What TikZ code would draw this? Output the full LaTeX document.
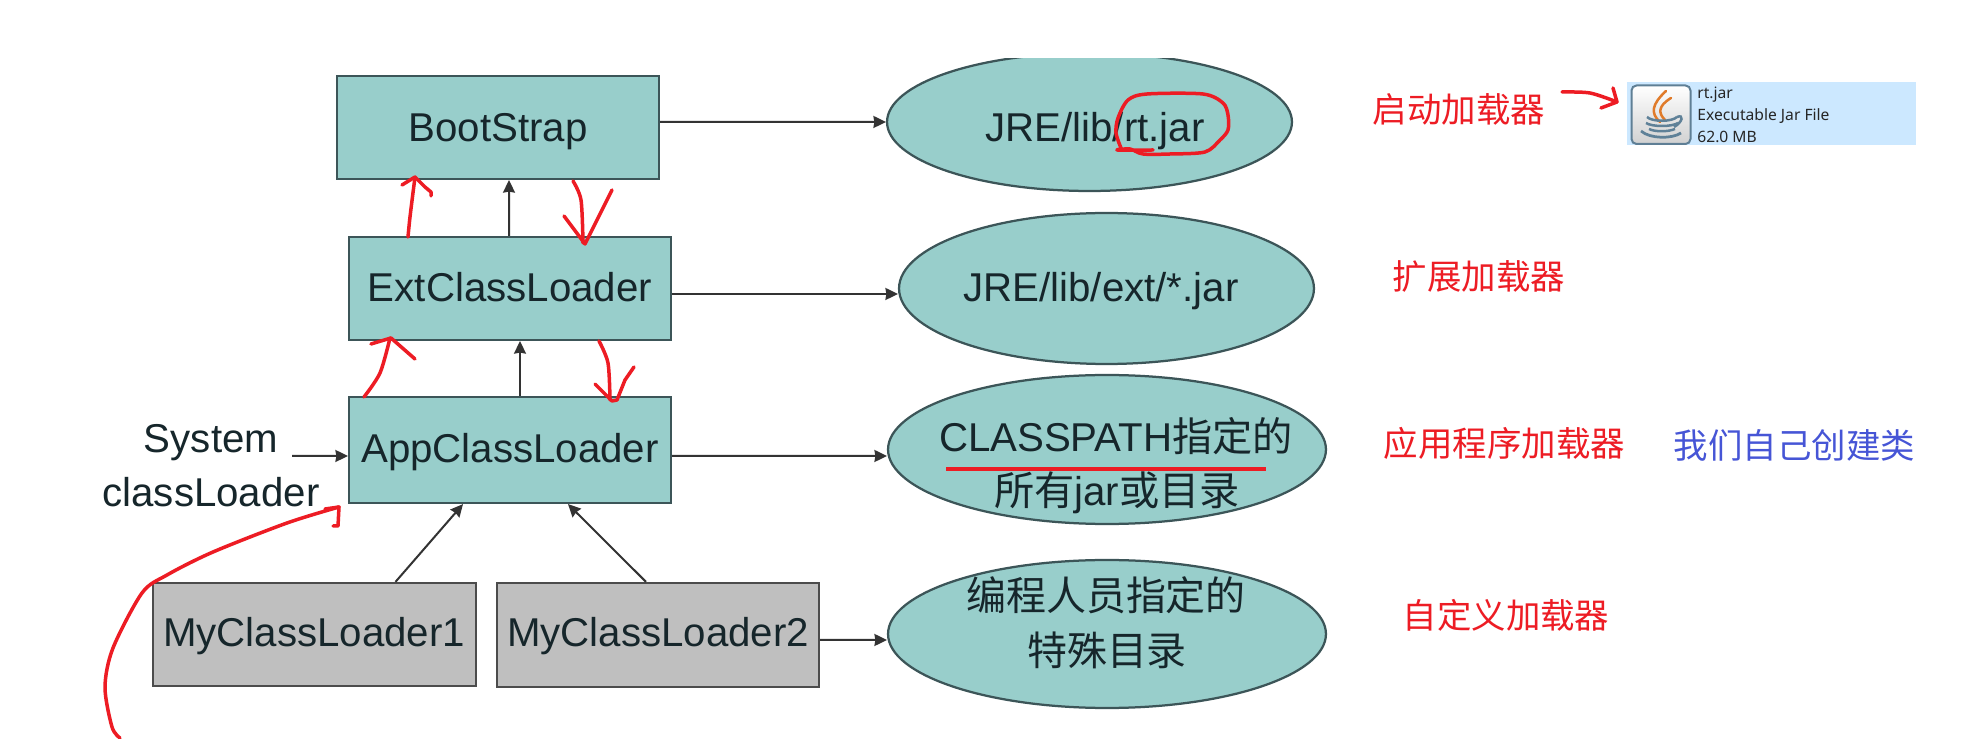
\documentclass[tikz,border=0pt]{standalone}
\usepackage{fontspec}
\setmainfont{Liberation Sans}
\newfontfamily\cjk{Noto Sans CJK SC}
\newfontfamily\uifont{Noto Sans}
\usetikzlibrary{arrows.meta,shapes.geometric,calc}
\definecolor{teal}{HTML}{98CECB}
\definecolor{grayfill}{HTML}{BFBFBF}
\definecolor{edge}{HTML}{3C5558}
\definecolor{ink}{HTML}{16262B}
\definecolor{pen}{HTML}{ED1C24}
\definecolor{bluetxt}{HTML}{4655D6}
\definecolor{sel}{HTML}{CCE8FF}
\definecolor{iconedge}{HTML}{5F7F95}
\definecolor{steam}{HTML}{E07B2A}
\definecolor{cupc}{HTML}{5F8198}
\tikzset{
  box/.style={draw=edge,line width=0.045cm,fill=teal,inner sep=0pt},
  graybox/.style={draw=black!70,line width=0.045cm,fill=grayfill,inner sep=0pt},
  oval/.style={ellipse,draw=edge,line width=0.045cm,fill=teal,inner sep=0pt},
  lbl/.style={anchor=base,inner sep=0pt,text=ink,font=\fontsize{22.9}{27}\selectfont},
  redlbl/.style={anchor=center,inner sep=0pt,text=pen,font=\cjk\fontsize{19.6}{24}\selectfont},
  bluelbl/.style={anchor=center,inner sep=0pt,text=bluetxt,font=\cjk\fontsize{19.6}{24}\selectfont},
  uitext/.style={anchor=west,inner sep=0pt,text=black!85,font=\uifont\fontsize{8.9}{11}\selectfont},
  conn/.style={draw=black!80,line width=0.04cm,-{Stealth[length=0.25cm,width=0.24cm,inset=0.02cm]}},
  scribble/.style={draw=pen,line width=0.07cm,line cap=round,line join=round},
}
\begin{document}
\begin{tikzpicture}[x=0.02cm,y=-0.02cm]
\useasboundingbox (0,0) rectangle (1962,739);
\fill[white] (0,0) rectangle (1962,739);
% boxes
\node[box,minimum width=6.44cm,minimum height=2.06cm] (boot) at (498,127.5) {};
\node[box,minimum width=6.44cm,minimum height=2.06cm] (ext) at (510,288.5) {};
\node[box,minimum width=6.44cm,minimum height=2.12cm] (app) at (510,450) {};
\node[graybox,minimum width=6.46cm,minimum height=2.06cm] (my1) at (314.5,634.5) {};
\node[graybox,minimum width=6.44cm,minimum height=2.08cm] (my2) at (658,635) {};
% ellipses
\begin{scope}
\clip (0,59) rectangle (1962,739);
\node[oval,minimum width=8.10cm,minimum height=2.76cm] (e1) at (1089.5,122) {};
\end{scope}
\node[oval,minimum width=8.30cm,minimum height=3.02cm] (e2) at (1106.5,288.5) {};
\node[oval,minimum width=8.76cm,minimum height=2.98cm] (e3) at (1107,449.5) {};
\node[oval,minimum width=8.76cm,minimum height=2.96cm] (e4) at (1107,634) {};
% box labels
\node[lbl] (tboot) at (498,142) {BootStrap};
\node[lbl] (text) at (510,302) {ExtClassLoader};
\node[lbl] (tapp) at (510,463) {AppClassLoader};
\node[lbl] (tmy1) at (314,647) {MyClassLoader1};
\node[lbl] (tmy2) at (658,647) {MyClassLoader2};
\node[lbl] (tsys) at (211,452.5) {System};
\node[lbl] (tcl) at (211,506.5) {classLoader};
% ellipse labels
\node[lbl] (te1) at (1095,142) {JRE/lib/rt.jar};
\node[lbl] (te2) at (1101,302) {JRE/lib/ext/*.jar};
\node[lbl] (te3a) at (1116,452) {CLASSPATH{\cjk 指定的}};
\node[lbl] (te3b) at (1117,506) {{\cjk 所有}jar{\cjk 或目录}};
\node[lbl,font=\cjk\fontsize{22.76}{27}\selectfont] (te4a) at (1106,611) {编程人员指定的};
\node[lbl,font=\cjk\fontsize{22.76}{27}\selectfont] (te4b) at (1107,666) {特殊目录};
% connectors
\draw[conn] ([yshift=0.11cm]boot.east) -- (e1.west);
\draw[conn] ([yshift=-0.11cm]ext.east) -- ([yshift=-0.11cm]e2.west);
\draw[conn] ([yshift=-0.12cm]app.east) -- ([yshift=-0.13cm]e3.west);
\draw[conn] ([yshift=-0.1cm]my2.east) -- ([yshift=-0.12cm]e4.west);
\draw[conn] ([xshift=-0.02cm]ext.north) -- ([xshift=0.22cm]boot.south);
\draw[conn] ([xshift=0.2cm]app.north) -- ([xshift=0.2cm]ext.south);
\draw[conn] ([xshift=1.62cm]my1.north) -- ([xshift=-0.94cm]app.south);
\draw[conn] ([xshift=-0.24cm]my2.north) -- ([xshift=1.16cm]app.south);
\coordinate (sysfree) at (292,456);
\draw[conn] (sysfree) -- ([yshift=-0.12cm]app.west);
% red side labels
\node[redlbl] (l1) at (1459,109) {启动加载器};
\node[redlbl] (l2) at (1479,276) {扩展加载器};
\node[redlbl] (l3) at (1504.5,443) {应用程序加载器};
\node[bluelbl] (l4) at (1794.5,445) {我们自己创建类};
\node[redlbl] (l5) at (1506,615) {自定义加载器};
% selected file panel
\fill[sel] (1627,82) rectangle (1916,145);
\shade[top color=white,bottom color=black!18,draw=iconedge,line width=0.04cm,rounded corners=0.1cm] (1631.5,85.5) rectangle (1690.5,144);
\draw[steam,line width=0.05cm,line cap=round] (1666,91) .. controls (1652,104) and (1650,113) .. (1660,122);
\draw[steam,line width=0.05cm,line cap=round] (1671,98) .. controls (1658,106) and (1658,113) .. (1665,120);
\draw[cupc,line width=0.05cm] (1647,117) .. controls (1652,122) and (1672,122) .. (1677,117);
\draw[cupc,line width=0.05cm] (1646,123) .. controls (1652,127) and (1672,127) .. (1678,123);
\draw[cupc,line width=0.05cm] (1649,129) .. controls (1655,132) and (1668,132) .. (1675,129);
\draw[cupc,line width=0.05cm] (1677,117) .. controls (1684,114) and (1683,122) .. (1674,127);
\draw[cupc,line width=0.055cm] (1641,131) .. controls (1650,139) and (1672,139) .. (1681,133);
\node[uitext] (f1) at (1697,95) {rt.jar};
\node[uitext] (f2) at (1697,116) {Executable Jar File};
\node[uitext] (f3) at (1697,137) {62.0 MB};
% red pen strokes
\draw[scribble] plot[smooth] coordinates {(1562,92) (1590,93) (1617,102)};
\draw[scribble] (1613,88) -- (1617,102) -- (1601,108);
\draw[scribble] plot[smooth] coordinates {(408,237) (410,217) (415,177)};
\draw[scribble] (402,185) -- (415,177) -- (425,187) -- (431,192) -- (431,196);
\draw[scribble] plot[smooth] coordinates {(573,181) (581,200) (583,243)};
\draw[scribble] (564,216) -- (585,244) -- (597,220) -- (612,190);
\draw[scribble] plot[smooth] coordinates {(364,397) (380,373) (390,338)};
\draw[scribble] (371,344) -- (391,338) -- (415,359);
\draw[scribble] plot[smooth] coordinates {(599,341) (608,363) (610,400)};
\draw[scribble] (595,384) -- (612,401) -- (617,400) -- (625,380) -- (634,367);
\draw[scribble] plot[smooth,tension=0.5] coordinates {(120,738) (112,727) (105,687) (113,648) (142,593) (167,575) (213,552) (287,523) (339,507)};
\draw[scribble] (325,509) -- (339,507) -- (338,526) -- (333,526);
\draw[scribble] plot[smooth,tension=0.5] coordinates {(1121,148) (1116,133) (1118,118) (1128,100) (1147,94) (1203,94) (1223,103) (1228,115) (1228,130) (1220,140) (1205,152) (1170,154) (1143,154) (1130,149) (1117,150) (1153,150)};
\draw[scribble,line width=0.075cm,line cap=butt] (946,469) -- (1266,469);
\end{tikzpicture}
\end{document}
